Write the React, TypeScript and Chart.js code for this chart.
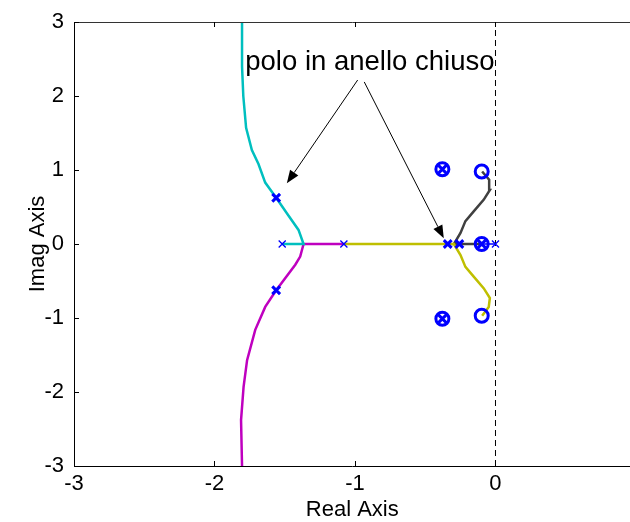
import React, { useEffect, useRef } from "react";
import { Chart, registerables } from "chart.js";
Chart.register(...registerables);

// ---- data ----
const xTicks = [-3, -2, -1, 0];
const yTicks = [-3, -2, -1, 0, 1, 2, 3];
const xRange = [-3, 0.961];
const yRange = [-3, 3];

// root locus branches
const cyanX = [-1.518, -1.366, -1.402, -1.485, -1.561, -1.639, -1.687, -1.734, -1.775, -1.795, -1.804, -1.804];
const cyanY = [0, 0, 0.19, 0.415, 0.626, 0.83, 1.08, 1.27, 1.57, 2.0, 2.4, 3.0];
const magentaX = [-1.079, -1.366, -1.39, -1.425, -1.561, -1.639, -1.71, -1.768, -1.793, -1.811, -1.804];
const magentaY = [0, 0, -0.17, -0.28, -0.625, -0.85, -1.16, -1.57, -1.93, -2.38, -3.0];
const yellowX = [-1.079, -0.296, -0.249, -0.214, -0.155, -0.083, -0.04, -0.048, -0.095];
const yellowY = [0, 0, -0.15, -0.31, -0.44, -0.6, -0.73, -0.85, -0.97];
const grayX = [-0.098, -0.296, -0.249, -0.214, -0.155, -0.083, -0.04, -0.045, -0.095];
const grayY = [0, 0, 0.15, 0.31, 0.44, 0.6, 0.73, 0.87, 0.98];
const blueX = [0, -0.098];
const blueY = [0, 0];

// markers
const openPoleX = [-1.518, -1.079, 0];
const openPoleY = [0, 0, 0];
const closedPoleX = [-1.561, -1.561, -0.34, -0.257, -0.378, -0.378, -0.098];
const closedPoleY = [0.625, -0.625, 0, 0, 1.01, -1.01, 0];
const zeroX = [-0.378, -0.378, -0.098, -0.098, -0.098];
const zeroY = [1.01, -1.01, 0.98, 0, -0.97];

// imaginary axis (dashed)
const imagAxisX = [0, 0];
const imagAxisY = [-3, 3];

// annotation
const annotationText = "polo in anello chiuso";
const annotationPos = [-0.894, 2.35];
const arrowFromX = [-0.981, -0.934];
const arrowFromY = [2.216, 2.19];
const arrowToX = [-1.485, -0.368];
const arrowToY = [0.82, 0.077];

const FONT = "'Liberation Sans', Arial, sans-serif";

const pts = (xs: number[], ys: number[]) => xs.map((x, i) => ({ x, y: ys[i] }));

const lineDs = (xs: number[], ys: number[], color: string, width = 2.5) => ({
  type: "line" as const,
  data: pts(xs, ys),
  borderColor: color,
  borderWidth: width,
  pointRadius: 0,
  showLine: true,
  fill: false,
  tension: 0,
  order: 2,
});

const decorPlugin = {
  id: "decor",
  afterDatasetsDraw(chart: any) {
    const { ctx, chartArea, scales } = chart;
    const xs = scales.x;
    const ys = scales.y;
    ctx.save();
    // top border
    ctx.strokeStyle = "#333";
    ctx.lineWidth = 1;
    ctx.beginPath();
    ctx.moveTo(chartArea.left, chartArea.top + 0.5);
    ctx.lineTo(chartArea.right, chartArea.top + 0.5);
    ctx.stroke();
    // inner tick marks
    ctx.strokeStyle = "#000";
    ctx.beginPath();
    for (const v of xTicks) {
      const px = Math.round(xs.getPixelForValue(v)) + 0.5;
      ctx.moveTo(px, chartArea.bottom);
      ctx.lineTo(px, chartArea.bottom - 5);
      ctx.moveTo(px, chartArea.top);
      ctx.lineTo(px, chartArea.top + 5);
    }
    for (const v of yTicks) {
      const py = Math.round(ys.getPixelForValue(v)) + 0.5;
      ctx.moveTo(chartArea.left, py);
      ctx.lineTo(chartArea.left + 5, py);
    }
    ctx.stroke();
    // annotation text
    ctx.fillStyle = "#000";
    ctx.font = `27.5px ${FONT}`;
    ctx.textAlign = "center";
    ctx.textBaseline = "alphabetic";
    ctx.fillText(annotationText, xs.getPixelForValue(annotationPos[0]), ys.getPixelForValue(annotationPos[1]));
    // arrows
    for (let i = 0; i < arrowFromX.length; i++) {
      const x1 = xs.getPixelForValue(arrowFromX[i]);
      const y1 = ys.getPixelForValue(arrowFromY[i]);
      const x2 = xs.getPixelForValue(arrowToX[i]);
      const y2 = ys.getPixelForValue(arrowToY[i]);
      const ang = Math.atan2(y2 - y1, x2 - x1);
      const L = 13;
      const W = 5;
      const bx = x2 - L * Math.cos(ang);
      const by = y2 - L * Math.sin(ang);
      ctx.strokeStyle = "#000";
      ctx.lineWidth = 1;
      ctx.beginPath();
      ctx.moveTo(x1, y1);
      ctx.lineTo(bx, by);
      ctx.stroke();
      ctx.beginPath();
      ctx.moveTo(x2, y2);
      ctx.lineTo(bx + W * Math.sin(ang), by - W * Math.cos(ang));
      ctx.lineTo(bx - W * Math.sin(ang), by + W * Math.cos(ang));
      ctx.closePath();
      ctx.fill();
    }
    ctx.restore();
  },
};

export default function App() {
  const ref = useRef<HTMLCanvasElement | null>(null);
  useEffect(() => {
    if (!ref.current) return;
    const font = { family: FONT, size: 22 };
    const chart = new Chart(ref.current, {
      type: "scatter",
      data: {
        datasets: [
          {
            type: "scatter",
            data: pts(closedPoleX, closedPoleY),
            pointStyle: "crossRot",
            pointRadius: 5.5,
            borderColor: "#0000ff",
            borderWidth: 3,
            order: 0,
          } as any,
          {
            type: "scatter",
            data: pts(zeroX, zeroY),
            pointStyle: "circle",
            pointRadius: 6.5,
            backgroundColor: "rgba(0,0,0,0)",
            borderColor: "#0000ff",
            borderWidth: 3,
            order: 0,
          },
          {
            type: "scatter",
            data: pts(openPoleX, openPoleY),
            pointStyle: "crossRot",
            pointRadius: 5,
            borderColor: "#0000ff",
            borderWidth: 1.3,
            order: 1,
          },
          lineDs(cyanX, cyanY, "#00bfbf"),
          lineDs(magentaX, magentaY, "#bf00bf"),
          lineDs(yellowX, yellowY, "#bfbf00"),
          lineDs(grayX, grayY, "#404040"),
          lineDs(blueX, blueY, "#0000ff", 1.3),
          { ...lineDs(imagAxisX, imagAxisY, "#000000", 1), borderDash: [6, 4], order: 3 },
        ] as any,
      },
      options: {
        animation: false,
        responsive: false,
        events: [],
        layout: { padding: { top: 22, right: 0, left: 0, bottom: 0 } },
        plugins: { legend: { display: false }, tooltip: { enabled: false } },
        scales: {
          x: {
            type: "linear",
            min: xRange[0],
            max: xRange[1],
            afterBuildTicks: (s: any) => {
              s.ticks = xTicks.map((v) => ({ value: v }));
            },
            afterFit: (s: any) => {
              s.height = 56;
            },
            grid: { display: false, drawTicks: false },
            border: { display: true, color: "#000", width: 1 },
            ticks: { font, color: "#000", padding: 5, maxRotation: 0 },
            title: { display: true, text: "Real Axis", font: { ...font, lineHeight: 1.1 }, color: "#000", padding: 0 },
          },
          y: {
            type: "linear",
            min: yRange[0],
            max: yRange[1],
            afterBuildTicks: (s: any) => {
              s.ticks = yTicks.map((v) => ({ value: v }));
            },
            afterFit: (s: any) => {
              s.width = 74;
              s.paddingTop = 0;
              s.paddingBottom = 0;
            },
            grid: { display: false, drawTicks: false },
            border: { display: true, color: "#000", width: 1 },
            ticks: { font, color: "#000", padding: 10 },
            title: { display: true, text: "Imag Axis", font, color: "#000", padding: { top: 25, bottom: 0 } },
          },
        },
      } as any,
      plugins: [decorPlugin],
    });
    return () => chart.destroy();
  }, []);
  return (
    <div style={{ position: "fixed", left: 0, top: 0, width: 630, height: 522, background: "#fff", overflow: "hidden" }}>
      <canvas ref={ref} width={640} height={522} style={{ display: "block" }} />
    </div>
  );
}
